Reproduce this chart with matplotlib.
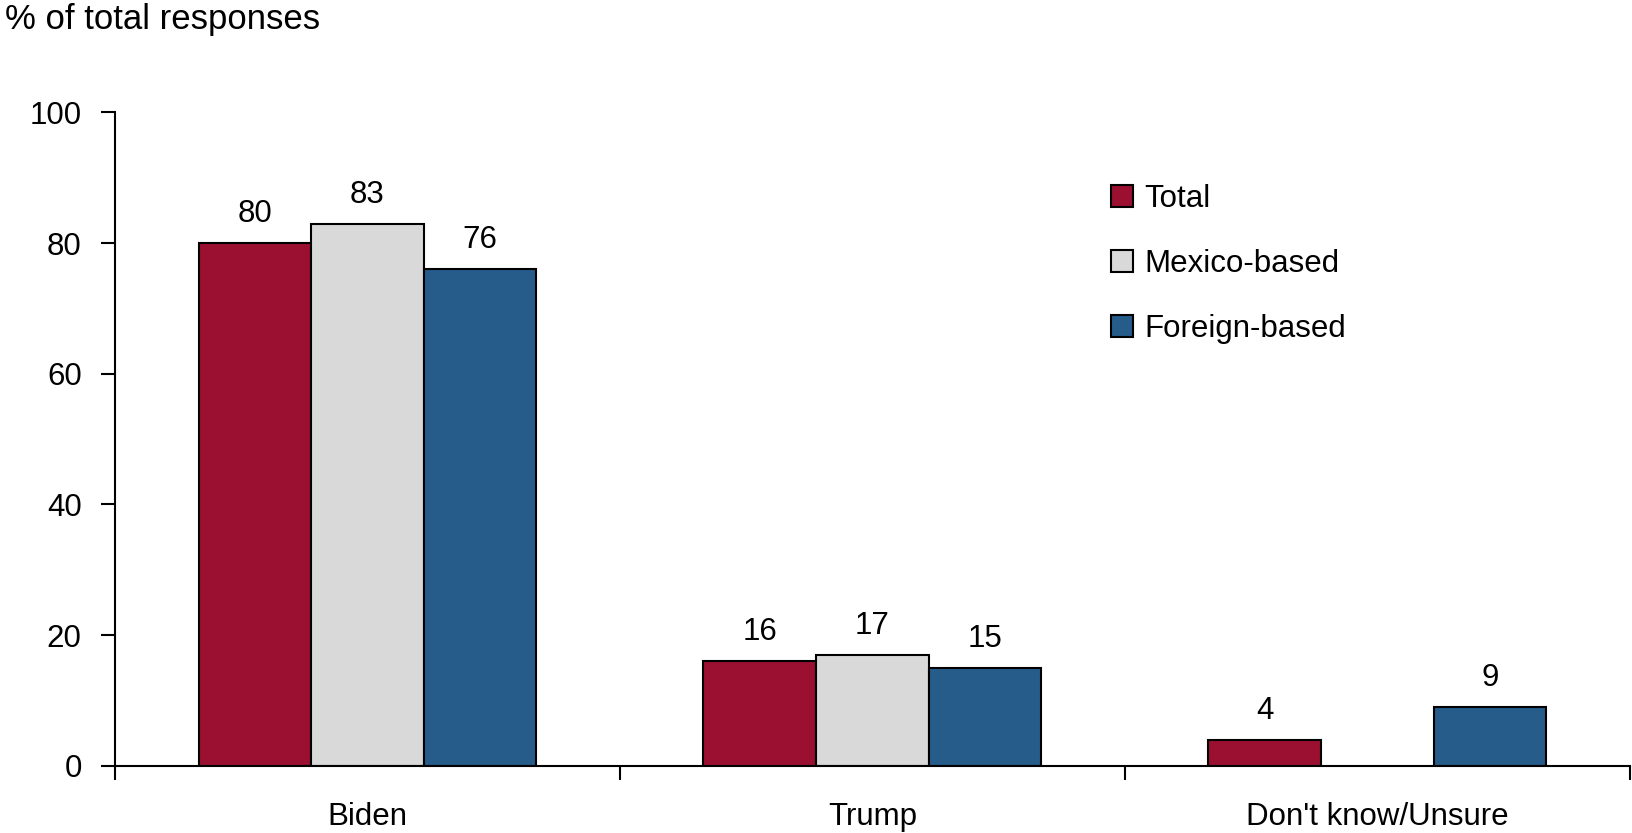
import numpy as np
import matplotlib
matplotlib.use("Agg")
import matplotlib.pyplot as plt

categories = ["Biden", "Trump", "Don't know/Unsure"]
series_names = ["Total", "Mexico-based", "Foreign-based"]
total = [80, 16, 4]
mexico = [83, 17, np.nan]
foreign = [76, 15, 9]
yticks = [0, 20, 40, 60, 80, 100]
colors = ["#9B1030", "#D9D9D9", "#265C8A"]

plt.rcParams['font.family'] = ['Liberation Sans', 'DejaVu Sans']
FS = 22.5

fig = plt.figure(figsize=(16.33, 8.33), dpi=100)
ax = fig.add_axes([0.0704, 0.0808, 0.9276, 0.7842])

x = np.arange(len(categories))
w = 0.223
for i, (vals, name, c) in enumerate(zip([total, mexico, foreign], series_names, colors)):
    xs = x + (i - 1) * w
    ax.bar(xs, vals, width=w, color=c, edgecolor="black", linewidth=1.5, label=name, zorder=2)
    for xi, v in zip(xs, vals):
        if not np.isnan(v):
            ax.annotate(f"{v:g}", (xi, v), xytext=(0, 10), textcoords="offset points",
                        ha="center", va="bottom", fontsize=FS)

ax.set_xlim(-0.5, 2.5)
ax.set_ylim(0, 100)
ax.set_yticks(yticks)
ax.set_yticklabels([str(t) for t in yticks], fontsize=FS)
ax.set_xticks([-0.5, 0.5, 1.5, 2.5])
ax.set_xticklabels([])
ax.set_xticks(x, minor=True)
ax.set_xticklabels(categories, minor=True, fontsize=FS)
ax.tick_params(axis="x", which="minor", length=0, pad=26)
ax.tick_params(axis="x", which="major", length=10, width=1.5, direction="out")
ax.tick_params(axis="y", length=10, width=1.5, direction="out", pad=14)
for s in ["top", "right"]:
    ax.spines[s].set_visible(False)
ax.spines["left"].set_linewidth(1.5)
ax.spines["bottom"].set_linewidth(1.5)

fig.text(0.003, 0.977, "% of total responses", fontsize=25, ha="left", va="center")

leg = ax.legend(loc="upper left", bbox_to_anchor=(0.6495, 0.91), frameon=False, fontsize=FS,
                handlelength=0.7, handleheight=0.7, handletextpad=0.35, labelspacing=1.12,
                borderaxespad=0)
for h in leg.legend_handles:
    h.set_linewidth(1.5)

fig.savefig("out.png", dpi=100)
